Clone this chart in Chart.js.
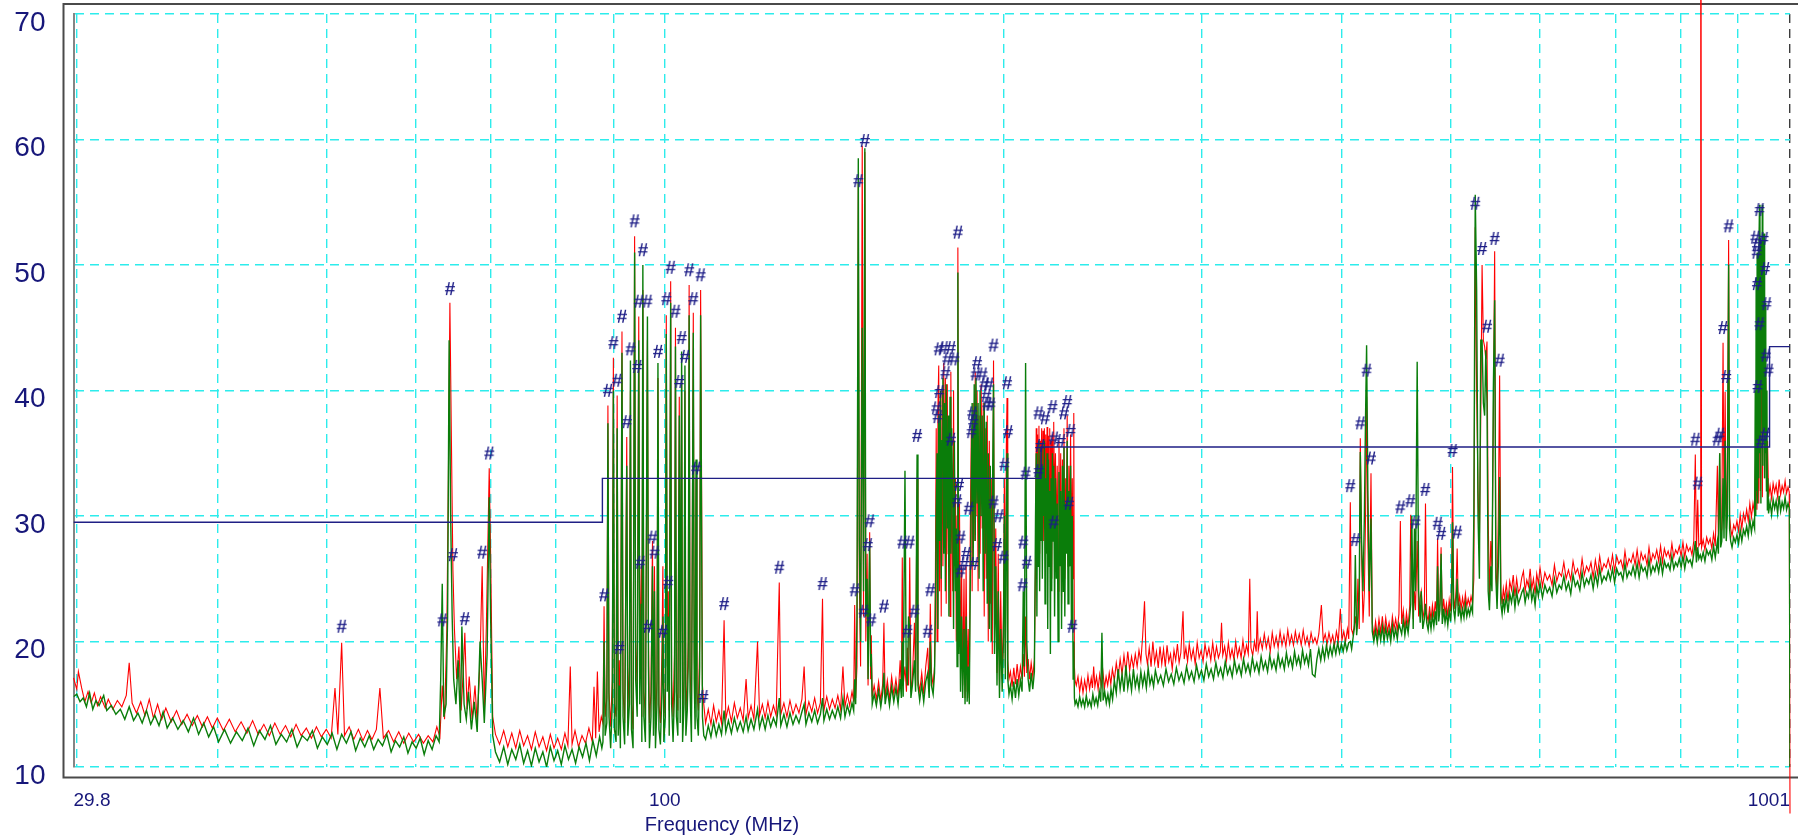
<!DOCTYPE html>
<html>
<head>
<meta charset="utf-8">
<title>Radiated emission scan</title>
<script src="https://cdn.jsdelivr.net/npm/chart.js@4.4.0/dist/chart.umd.min.js"></script>
<style>
  html, body { margin: 0; padding: 0; background: #ffffff; }
  #wrap { position: relative; width: 1798px; height: 837px; }
</style>
</head>
<body>
<div id="wrap"><canvas id="scanChart" width="1798" height="837"></canvas></div>
<script>
// Axis settings
const X_MIN = 29.8;
const X_MAX = 1001;
const X_GRID = [29.8, 30, 40, 50, 60, 70, 80, 90, 100, 200, 300, 400, 500, 600, 700, 800, 900, 1000, 1001];
const X_LABELS = [29.8, 100, 1001];
const X_TITLE = 'Frequency (MHz)';
const Y_MIN = 10;
const Y_MAX = 70;

// Limit line (stepped)
const limitFreq = [29.8, 88, 216, 960, 1001];
const limitLevel = [29.5, 33.0, 35.5, 43.5, 43.5];

// Red trace [MHz, level]
const redBand1 = [[29.8,17.1],[30.0,16.2],[30.1,17.6],[30.3,16.3],[30.5,15.2],[30.7,16.0],[30.9,15.1],[31.1,15.9],[31.3,14.9],[31.5,15.6],[31.8,14.7],[32.0,15.4],[32.3,14.6],[32.6,15.3],[32.9,14.8],[33.2,15.7],[33.4,18.3],[33.6,15.1],[33.9,14.3],[34.2,15.2],[34.5,14.1],[34.8,15.4],[35.1,13.9],[35.4,15.0],[35.7,13.8],[36.0,14.7],[36.4,13.6],[36.8,14.5],[37.2,13.4],[37.6,14.2],[38.0,13.3],[38.4,14.1],[38.8,13.2],[39.2,14.0],[39.6,13.1],[40.0,13.9],[40.5,12.9],[41.0,13.8],[41.5,12.8],[42.0,13.6],[42.5,12.7],[43.0,13.7],[43.5,12.6],[44.0,13.4],[44.5,12.5],[45.0,13.5],[45.5,12.6],[46.0,13.3],[46.5,12.4],[47.0,13.4],[47.5,12.5],[48.0,13.1],[48.5,12.3],[49.0,13.2],[49.5,12.4],[50.0,13.0],[50.5,12.3],[50.9,16.3],[51.2,12.6],[51.6,19.9],[51.9,12.5],[52.4,13.2],[52.9,12.2],[53.4,13.0],[53.9,12.1],[54.4,12.9],[54.9,12.2],[55.4,13.0],[55.8,16.3],[56.2,12.3],[56.8,12.9],[57.4,12.0],[58.0,12.8],[58.6,11.9],[59.2,12.7],[59.8,12.0],[60.4,12.6],[61.0,11.9],[61.6,12.5],[62.2,12.0],[62.7,13.2],
  [63.1,12.4],[63.4,16.5],[63.7,13.8],[64.0,21.0],[64.2,33.0],[64.4,47.0],[64.6,36.0],[64.8,25.7],[65.0,21.0],[65.3,17.0],[65.6,19.6],[65.9,14.5],[66.2,17.8],[66.4,20.7],[66.7,14.6],[67.0,17.2],[67.4,13.8],[67.8,16.5],[68.1,13.5],[68.5,18.5],[68.8,26.0],[69.1,14.5],[69.4,21.5],[69.8,33.8],[70.0,27.0],[70.3,14.0],
  [70.7,12.6],[71.3,11.8],[71.9,12.9],[72.5,11.6],[73.1,12.7],[73.7,11.5],[74.3,12.9],[74.9,11.7],[75.5,12.5],[76.1,11.4],[76.7,12.8],[77.3,11.6],[77.9,12.4],[78.5,11.3],[79.1,12.6],[79.7,11.5],[80.3,12.3],[80.9,11.4],[81.5,12.7],[82.0,11.7],[82.4,18.0],[82.7,11.8],[83.2,12.9],[83.8,11.6],[84.4,12.5],[85.0,11.9],[85.6,13.1],[86.2,12.0],[86.5,16.4],[86.8,12.3],[87.1,17.6],[87.4,12.8],[87.8,14.0]];
const redBand2 = [[88.1,13.5],[88.3,22.8],[88.5,14.0],[88.8,15.5],[89.0,38.8],[89.2,16.0],[89.5,13.2],[89.8,17.0],[90.0,42.6],[90.2,15.0],[90.5,14.0],[90.7,39.6],[90.9,14.5],[91.1,18.5],[91.3,13.0],[91.6,44.7],[91.8,16.0],[92.1,13.5],[92.5,36.3],[92.7,14.5],[93.0,18.0],[93.2,40.0],[93.4,15.0],[93.7,13.0],[94.0,52.3],[94.2,20.0],[94.5,16.0],[94.8,45.9],[95.0,18.0],[95.3,26.0],[95.4,14.0],[95.6,48.0],[95.8,16.0],[96.1,14.0],[96.5,44.0],[96.7,20.5],[96.9,13.5],[97.2,16.0],[97.5,28.0],[97.7,14.5],[97.9,26.0],[98.1,13.0],[98.4,17.0],[98.6,41.0],[98.8,15.0],[99.1,13.5],[99.4,19.0],[99.6,26.0],[99.8,14.0],[100.1,16.0],[100.3,46.0],[100.5,18.0],[100.7,24.0],[100.9,14.5],[101.2,48.7],[101.4,17.0],[101.7,14.0],[102.0,19.0],[102.2,45.0],[102.4,16.0],[102.7,14.5],[103.0,39.5],[103.2,15.5],[103.5,41.0],[103.7,14.0],[104.0,17.0],[104.2,40.0],[104.4,14.5],[104.7,16.5],[104.9,20.0],[105.1,48.4],[105.3,18.0],[105.6,14.0],[106.0,46.2],[106.2,19.0],[106.4,15.0],[106.6,33.0],[106.8,16.0],[107.1,14.5],[107.4,20.0],[107.6,48.0],[107.8,34.0],[108.0,16.5],[108.3,15.0]];
const redBand3 = [[108.7,13.5],[109.3,14.6],[109.9,13.4],[110.5,14.9],[111.1,13.6],[111.7,14.5],[112.3,13.5],[112.9,21.7],[113.3,13.8],[113.9,14.8],[114.6,13.6],[115.3,15.1],[116.0,13.9],[116.7,14.7],[117.4,13.7],[118.1,17.0],[118.6,13.9],[119.3,14.9],[120.0,13.8],[120.9,20.0],[121.4,14.1],[122.1,15.0],[122.8,13.9],[123.5,15.2],[124.2,14.0],[124.9,14.9],[125.6,14.1],[126.4,24.7],[126.8,14.2],[127.6,15.1],[128.4,14.0],[129.2,15.3],[130.0,14.2],[130.8,15.0],[131.6,14.3],[132.4,15.4],[133.0,18.0],[133.5,14.2],[134.3,15.2],[135.1,14.4],[135.9,15.5],[136.7,14.3],[137.5,15.1],[138.1,23.4],[138.5,14.5],[139.3,15.6],[140.1,14.6],[140.9,15.4],[141.7,14.7],[142.5,15.7],[143.3,14.6],[144.0,18.0],[144.6,14.8],[145.3,15.8],[146.0,14.9],[146.7,16.0],[147.2,15.2],[147.5,22.9],[147.8,15.5],[148.2,18.0],[148.6,56.5],[148.9,25.0],[149.3,18.0],[149.8,59.5],[150.2,22.0],[150.6,59.0],[150.9,20.0],[151.3,27.0],[151.6,16.5],[152.1,28.7],[152.4,17.0],[152.6,20.5],[152.9,15.6],
  [153.5,16.5],[154.2,15.4],[154.9,16.8],[155.6,15.3],[156.2,16.6],[156.6,21.5],[157.0,15.5],[157.7,16.9],[158.4,15.4],[159.1,17.2],[159.8,15.8],[160.5,17.0],[161.2,15.6],[161.9,18.5],[162.3,16.0],[162.6,26.7],[162.9,16.5],[163.5,18.0],[164.0,16.0],[164.3,19.5],[164.7,16.5],[165.1,26.7],[165.5,16.0],[166.0,17.0],[166.7,21.5],[167.1,16.5],[167.6,33.0],[167.9,17.0],[168.5,16.0],[169.2,17.5],[169.9,15.8],[170.6,18.0],[171.3,19.5],[171.8,16.0],[172.2,23.0],[172.6,17.5],[173.2,16.5],[173.7,18.0],
  [174.0,25.0],[174.3,37.0],[174.6,20.0],[174.9,38.5],[175.2,42.0],[175.5,24.0],[175.8,35.0],[176.1,22.0],[176.4,40.0],[176.7,26.0],[177.0,42.2],[177.3,28.0],[177.6,41.0],[177.9,23.0],[178.3,40.5],[178.6,27.0],[178.9,36.0],[179.3,22.0],[179.6,41.5],[179.9,30.0],[180.3,24.0],[180.6,40.0],[180.9,26.0],[181.3,33.0],[181.6,20.0],[181.9,30.0],[182.2,51.4],[182.5,22.0],[182.8,31.0],[183.2,18.0],[183.6,26.0],[184.0,16.5],[184.5,25.0],[184.9,15.5],[185.3,26.0],[185.7,16.0],[186.1,21.0],[186.5,15.5],
  [186.9,29.0],[187.3,37.0],[187.6,24.0],[188.0,39.0],[188.4,28.0],[188.8,41.5],[189.1,30.0],[189.5,40.0],[189.9,24.0],[190.3,38.0],[190.7,27.0],[191.1,40.5],[191.5,29.0],[191.9,39.0],[192.3,22.0],[192.7,37.0],[193.1,25.0],[193.5,38.0],[193.9,20.0],[194.3,36.0],[194.7,23.0],[195.1,33.0],[195.5,19.0],[196.0,42.4],[196.4,21.0],[196.9,29.0],[197.4,17.5],[197.9,27.0],[198.4,16.5],[198.9,24.0],[199.5,17.0],[200.0,22.0],[200.4,33.0],[200.8,18.0],[201.2,35.5],[201.5,39.4],[201.8,18.5],[202.3,17.0],
  [202.9,17.6],[203.6,16.4],[204.3,17.9],[205.0,16.6],[205.7,18.2],[206.4,16.8],[207.1,18.0],[207.8,17.0],[208.3,19.0],[208.8,17.2],[209.3,22.0],[209.8,17.5],[210.4,18.6],[211.0,17.0],[211.7,18.3],[212.4,17.2],[213.1,18.5],
  [213.6,26.0],[213.9,37.0],[214.2,31.0],[214.5,36.5],[214.8,29.0],[215.1,37.2],[215.4,27.0],[215.7,36.0],[216.0,33.0],[216.3,37.0],[216.6,30.0],[216.9,36.8],[217.2,28.0],[217.5,37.0],[217.8,32.0],[218.1,36.5],[218.4,29.0],[218.7,37.1],[219.0,34.0],[219.3,36.4],[219.6,27.0],[219.9,37.0],[220.2,30.0],[220.5,36.0],[220.8,25.0],[221.1,36.5],[221.4,29.0],[221.7,37.5],[222.1,31.0],[222.5,35.0],[222.9,27.0],[223.3,34.0],[223.7,24.0],[224.1,36.0],[224.5,28.0],[224.9,35.0],[225.3,23.0],[225.7,34.5],[226.1,28.0],[226.4,37.0],[226.8,25.0],[227.2,33.0],[227.6,30.0],[227.9,38.0],[228.3,26.0],[228.7,34.0],[229.1,29.0],[229.5,36.5],[229.9,27.0],[230.3,33.0],[230.7,25.0],[231.0,38.2],[231.3,18.0],[231.6,16.9]];
const redBand4 = [[232.2,16.5],[233.0,17.2],[233.8,16.0],[234.6,17.0],[235.4,15.9],[236.2,16.9],[237.0,16.1],[237.8,17.3],[238.6,16.2],[239.4,17.1],[240.0,16.3],[240.6,18.0],[241.2,16.4],[242.0,17.2],[242.8,16.2],[243.6,17.4],[244.4,16.5],[245.2,17.6],[246.0,16.3],[246.8,17.2],[247.6,16.5],[248.4,17.5],[249.2,16.6],[250.0,17.8],[251.0,16.9],[252.0,18.3],[253.0,17.2],[254.0,18.6],[255.0,17.4],[256.0,18.9],[257.0,17.6],[258.0,19.2],[259.0,17.7],[260.0,18.8],[261.0,17.9],[262.0,19.0],[263.0,18.0],[264.0,19.3],[265.0,18.4],[266.0,20.5],[267.0,23.2],[267.8,19.0],[268.6,18.2],[269.6,19.5],[270.6,18.0],[271.6,20.0],[272.6,18.3],[273.6,19.2],[274.6,17.9],[275.6,19.6],[276.6,18.2],[277.6,19.4],[278.6,18.0],[279.6,19.7],[280.6,18.4],[281.6,19.0],[282.6,17.8],[283.6,19.3],[284.6,18.5],[285.6,19.8],[286.6,18.3],[287.6,19.1],[288.9,22.4],[289.6,18.6],[290.6,19.5],[291.6,18.4],[292.6,19.8],[293.8,18.6],[295.0,19.4],[296.2,18.2],[297.4,19.9],[298.6,18.7],[299.8,19.3],[301.0,18.4],[302.2,19.8],[303.4,18.8],[304.6,19.5],[305.8,18.5],[307.0,19.9],[308.2,18.6],[309.4,19.6],[310.6,18.7],[311.8,19.2],[312.6,21.5],[313.4,18.9],[314.6,19.6],[315.8,18.5],[317.0,19.9],[318.2,18.7],[319.4,19.4],[320.6,18.6],[321.8,20.0],[323.0,18.8],[324.2,19.5],[325.4,18.7],[326.6,20.1],[327.8,18.9],[329.0,19.7],[330.2,19.0],[331.2,25.0],[332.0,19.5],[333.2,18.9],[334.4,20.0],[335.6,19.2],[336.3,22.4],[337.0,19.3],[338.4,20.2],[339.8,19.4],[341.2,20.6],[342.6,19.5],[344.0,20.3],[345.4,19.2],[346.8,20.7],[348.2,19.6],[349.6,20.4],[351.0,19.5],[352.4,20.8],[353.8,19.7],[355.2,20.5],[356.6,19.6],[358.0,20.9],[359.4,19.8],[360.8,20.5],[362.2,19.7],[363.6,20.8],[365.0,19.9],[366.5,20.6],[368.0,19.7],[369.5,20.9],[371.0,19.8],[372.5,20.4],[374.0,19.6],[375.5,20.7],[377.0,19.9],[378.5,20.3],[380.0,19.8],[381.5,20.6],[383.5,22.9],[385.0,20.0],[386.5,20.6],[388.0,19.8],[389.5,20.7],[391.0,19.9],[392.5,20.5],[394.0,19.7],[395.5,20.8],[397.0,20.0],[398.7,22.6],[400.0,20.1],[401.5,20.8],[403.0,20.0],[404.5,21.0],[405.6,20.2],
  [406.9,31.1],[407.8,21.0],[409.0,20.6],[410.2,21.2],[411.1,22.0],[412.2,20.8],[413.3,25.0],[414.4,21.0],[415.3,36.2],[416.4,27.0],[417.6,21.5],[418.8,24.0],[419.8,30.0],[420.7,39.5],[421.8,28.0],[423.0,22.0],[424.5,33.4],[425.6,21.5],[427.0,20.4],[428.5,21.6],[430.0,20.5],[431.5,21.8],[433.0,20.7],[434.5,22.0],[436.0,20.6],[437.5,21.9],[439.0,20.8],[440.5,21.5],[442.0,20.6],[443.5,22.0],[445.0,21.0],[446.5,21.8],[448.0,20.9],[449.5,22.2],[450.8,29.6],[452.0,21.4],[453.5,22.5],[455.0,21.0],[456.5,22.3],[458.0,21.2],[459.5,22.8],[460.5,30.1],[461.5,25.0],[462.8,21.8],[464.0,24.0],[465.0,22.5],[466.6,28.0],[468.0,22.0],[469.5,23.5],[470.5,24.0],[472.0,21.8],[473.5,22.6],[474.6,31.0],[475.8,22.2],[477.2,21.6],[478.6,22.8],[480.0,21.7],[481.4,22.9],[482.8,21.9],[484.2,23.2],[485.5,22.0],[486.5,28.2],[487.6,22.4],[488.8,23.0],[490.0,27.5],[491.2,22.1],[492.6,23.4],[494.0,22.2],[495.4,23.0],[496.8,22.0],[498.2,23.3],[499.6,22.4],[500.8,25.0],[501.6,33.9],[502.8,23.5],[504.0,22.6],[505.2,24.0],[506.4,27.4],[507.6,22.8],[509.0,23.6],[510.5,22.6],[512.0,23.5],[513.5,22.7],[515.0,23.8],[516.5,22.8],[518.0,23.4],[519.5,22.9],[521.0,23.6],[522.6,23.0],[524.0,25.0],[525.5,53.0],[527.0,40.0],[528.5,32.0],[530.0,28.0],[531.5,38.0],[532.9,50.0],[534.3,44.0],[535.7,43.5],[537.0,42.5],[538.3,43.9],[539.6,30.0],[541.0,23.5],[542.5,28.0],[543.8,26.0],[545.3,37.0],[546.8,51.1],[548.2,26.0],[549.5,23.4],[550.9,30.0],[552.4,41.2],[553.8,24.0],[555.2,23.0],[556.6,24.2]];
const redBand5 = [[558.0,23.4],[560.0,24.6],[562.0,23.2],[564.0,24.8],[566.0,24.1],[568.0,25.3],[570.0,23.6],[572.0,25.0],[574.0,23.9],[576.0,24.2],[578.0,25.1],[580.0,25.6],[582.0,24.0],[584.0,24.9],[586.0,24.4],[588.0,25.8],[590.0,24.2],[592.0,25.0],[594.0,23.8],[596.0,25.4],[598.0,24.6],[600.0,25.9],[603.0,24.4],[606.0,25.5],[609.0,24.9],[612.0,25.3],[615.0,24.5],[618.0,26.1],[621.0,24.8],[624.0,25.5],[627.0,25.2],[630.0,26.3],[633.0,25.0],[636.0,25.7],[639.0,24.9],[642.0,26.4],[645.0,25.4],[648.0,25.8],[651.0,25.0],[654.0,26.6],[657.0,25.3],[660.0,26.0],[663.0,25.6],[666.0,26.3],[669.0,25.1],[672.0,26.5],[675.0,25.4],[678.0,26.8],[681.0,25.6],[684.0,26.2],[687.0,25.9],[690.0,26.6],[693.0,25.8],[696.0,26.9],[699.0,25.6],[702.0,26.8],[705.0,26.2],[708.0,26.5],[711.0,25.8],[714.0,27.2],[717.0,26.0],[720.0,26.6],[723.0,26.3],[726.0,27.0],[729.0,26.1],[732.0,27.3],[735.0,26.0],[738.0,27.1],[741.0,26.5],[744.0,26.9],[747.0,26.1],[750.0,27.5],[753.0,26.3],[756.0,27.0],[759.0,26.6],[762.0,27.3],[765.0,26.4],[768.0,27.6],[771.0,26.3],[774.0,27.4],[777.0,26.8],[780.0,27.2],[783.0,26.6],[786.0,27.8],[789.0,26.7],[792.0,27.3],[795.0,27.0],[798.0,27.6],[801.0,26.8],[804.0,27.9],[807.0,26.7],[810.0,27.7],[813.0,27.2],[816.0,27.5],[819.0,26.9],[822.0,28.0],[824.6,34.9],[826.5,27.2],[828.7,31.3],[830.5,27.6],[832.6,27.8],[833.4,110],[834.2,110],[835.2,27.5],[838.0,28.1],[841.0,27.3],[844.0,28.3],[847.0,27.8],[850.0,28.2],[853.0,27.4],[856.0,28.6],[859.0,27.6],[862.7,34.0],[864.5,28.0],[866.8,35.0],[868.5,28.3],[870.5,29.0],[872.8,43.8],[874.5,30.0],[876.5,39.9],[878.5,29.0],[880.5,33.0],[882.8,52.0],[884.5,30.0],[886.5,29.0],[889.0,28.4],[892.0,29.3],[895.0,28.9],[898.0,29.6],[901.0,28.8],[904.0,30.1],[907.0,29.0],[910.0,30.2],[913.0,29.6],[916.0,30.5],[919.0,29.6],[922.0,31.0],[925.0,29.9],[928.0,31.0],[931.0,30.2],[933.0,35.0],[935.4,30.5],[937.0,38.0],[939.0,31.0],[940.4,53.0],[942.0,32.0],[944.0,45.0],[946.0,31.5],[948.2,50.0],[950.0,33.0],[952.4,41.0],[954.1,32.0],[956.0,36.0],[958.0,31.5],[961.0,32.4],[964.0,31.4],[967.0,32.6],[970.0,31.9],[973.0,32.5],[976.0,31.5],[979.0,32.9],[982.0,31.7],[985.0,32.4],[988.0,31.9],[991.0,32.8],[994.0,31.8],[997.0,32.3],[999.5,31.9],[1001,6.3]];

// Green trace [MHz, level]
const greenBand1 = [[29.8,15.6],[30.0,15.8],[30.2,15.2],[30.4,15.5],[30.6,14.8],[30.8,15.9],[31.0,14.6],[31.2,15.3],[31.4,14.9],[31.7,15.7],[31.9,14.5],[32.2,14.9],[32.5,14.2],[32.8,14.6],[33.1,13.8],[33.4,14.8],[33.7,13.7],[34.0,14.3],[34.3,13.5],[34.6,14.5],[34.9,13.4],[35.2,14.1],[35.5,13.3],[35.8,14.4],[36.1,13.1],[36.5,13.9],[36.9,13.0],[37.3,13.7],[37.7,12.8],[38.1,13.9],[38.5,12.6],[38.9,13.5],[39.3,12.4],[39.7,13.2],[40.1,12.0],[40.6,13.0],[41.1,11.9],[41.6,12.8],[42.1,12.1],[42.6,13.1],[43.1,11.7],[43.6,12.9],[44.1,12.2],[44.6,13.3],[45.1,11.8],[45.6,12.6],[46.1,12.0],[46.6,13.0],[47.1,11.6],[47.6,12.5],[48.1,12.1],[48.6,12.9],[49.1,11.5],[49.6,12.4],[50.1,11.8],[50.6,12.7],[51.1,11.4],[51.6,12.6],[52.1,11.9],[52.6,12.8],[53.1,11.3],[53.6,12.3],[54.1,11.6],[54.6,12.5],[55.1,11.4],[55.6,12.2],[56.1,11.7],[56.6,12.6],[57.1,11.2],[57.6,12.1],[58.1,11.6],[58.6,12.4],[59.1,11.1],[59.6,12.0],[60.1,11.5],[60.6,12.3],[61.1,11.0],[61.6,12.1],[62.1,11.4],[62.6,12.5],
  [63.0,12.0],[63.2,17.0],[63.4,24.6],[63.6,14.0],[63.9,15.0],[64.1,22.0],[64.3,44.0],[64.5,30.0],[64.7,22.0],[64.9,17.0],[65.2,15.0],[65.5,18.5],[65.8,13.5],[66.0,21.2],[66.3,15.0],[66.6,13.8],[66.9,16.0],[67.3,13.0],[67.7,15.2],[68.1,12.8],[68.5,20.0],[68.8,17.0],[69.1,13.5],[69.5,19.0],[69.8,31.5],[70.0,22.0],[70.3,12.5],
  [70.7,11.2],[71.3,10.4],[71.9,11.6],[72.5,10.2],[73.1,11.4],[73.7,10.6],[74.3,11.8],[74.9,10.3],[75.5,11.3],[76.1,10.1],[76.7,11.5],[77.3,10.4],[77.9,11.2],[78.5,10.0],[79.1,11.6],[79.7,10.5],[80.3,11.3],[80.9,10.2],[81.5,11.7],[82.1,10.6],[82.7,11.4],[83.3,10.3],[83.9,11.6],[84.5,10.8],[85.1,11.9],[85.7,10.5],[86.3,12.1],[86.9,10.9],[87.5,12.4],[87.9,11.5]];
const greenBand2 = [[88.1,12.0],[88.3,20.0],[88.5,12.5],[88.8,13.5],[89.0,37.4],[89.2,14.0],[89.5,11.5],[89.8,15.0],[90.0,40.0],[90.2,13.0],[90.5,12.0],[90.7,37.0],[90.9,12.5],[91.1,16.5],[91.3,11.5],[91.6,43.0],[91.8,14.0],[92.1,11.8],[92.5,34.0],[92.7,12.5],[93.0,15.0],[93.2,42.4],[93.4,13.0],[93.7,11.5],[94.0,51.0],[94.2,17.0],[94.5,14.0],[94.8,44.0],[95.0,15.0],[95.3,23.0],[95.4,12.0],[95.6,50.0],[95.8,14.0],[96.1,12.0],[96.5,45.9],[96.7,18.0],[96.9,11.5],[97.2,14.0],[97.5,26.0],[97.7,12.5],[97.9,24.0],[98.1,11.5],[98.4,15.0],[98.6,42.2],[98.8,13.0],[99.1,11.8],[99.4,16.0],[99.6,22.0],[99.8,12.0],[100.1,14.0],[100.3,44.5],[100.5,16.0],[100.7,22.0],[100.9,12.5],[101.2,47.0],[101.4,15.0],[101.7,12.0],[102.0,16.0],[102.2,43.5],[102.4,14.0],[102.7,12.5],[103.0,38.0],[103.2,13.5],[103.5,43.1],[103.7,12.0],[104.0,15.0],[104.2,42.0],[104.4,12.5],[104.7,14.5],[104.9,18.0],[105.1,46.0],[105.3,16.0],[105.6,12.0],[106.0,44.6],[106.2,17.0],[106.4,13.0],[106.6,34.5],[106.8,14.0],[107.1,12.5],[107.4,18.0],[107.6,46.0],[107.8,30.0],[108.0,14.0],[108.3,12.5]];
const greenBand3 = [[108.7,12.2],[109.3,13.3],[109.9,12.4],[110.5,13.6],[111.1,12.5],[111.7,13.4],[112.3,12.6],[112.9,14.5],[113.3,12.8],[113.9,13.7],[114.6,12.7],[115.3,13.9],[116.0,12.9],[116.7,13.6],[117.4,12.8],[118.1,14.0],[118.6,12.9],[119.3,13.8],[120.0,13.0],[120.9,14.6],[121.4,13.1],[122.1,14.0],[122.8,13.0],[123.5,14.1],[124.2,13.2],[124.9,13.9],[125.6,13.3],[126.4,15.5],[126.8,13.3],[127.6,14.2],[128.4,13.2],[129.2,14.3],[130.0,13.4],[130.8,14.1],[131.6,13.5],[132.4,14.4],[133.0,15.0],[133.5,13.4],[134.3,14.3],[135.1,13.6],[135.9,14.5],[136.7,13.5],[137.5,14.2],[138.1,15.5],[138.5,13.7],[139.3,14.6],[140.1,13.8],[140.9,14.5],[141.7,13.9],[142.5,14.8],[143.3,13.9],[144.0,15.5],[144.6,14.0],[145.3,14.9],[146.0,14.2],[146.7,15.1],[147.2,14.5],[147.5,17.0],[147.8,15.0],[148.2,22.0],[148.6,58.5],[148.9,28.0],[149.3,20.0],[149.8,45.0],[150.2,24.0],[150.6,59.3],[150.9,22.0],[151.3,25.0],[151.6,17.0],[152.1,28.0],[152.4,18.0],[152.6,19.0],[152.9,15.0],
  [153.5,15.8],[154.2,14.9],[154.9,16.1],[155.6,14.8],[156.2,15.9],[156.6,17.5],[157.0,15.0],[157.7,16.2],[158.4,14.9],[159.1,16.4],[159.8,15.2],[160.5,16.3],[161.2,15.0],[161.9,17.0],[162.3,15.5],[162.6,20.0],[162.9,15.6],[163.5,33.6],[163.9,18.0],[164.3,16.5],[164.7,22.0],[165.1,21.0],[165.5,15.5],[166.0,16.5],[166.7,18.5],[167.1,16.0],[167.6,34.9],[167.9,16.5],[168.5,15.3],[169.2,16.6],[169.9,15.2],[170.6,16.8],[171.3,17.5],[171.8,15.5],[172.2,20.0],[172.6,16.5],[173.2,15.8],[173.7,17.5],
  [174.0,22.0],[174.3,30.0],[174.6,35.0],[174.9,21.0],[175.2,38.0],[175.5,28.0],[175.8,40.0],[176.1,25.0],[176.4,36.0],[176.7,41.0],[177.0,27.0],[177.3,39.0],[177.6,24.0],[177.9,40.5],[178.3,29.0],[178.6,38.0],[178.9,22.0],[179.3,39.5],[179.6,27.0],[179.9,37.0],[180.3,31.0],[180.6,21.0],[180.9,36.0],[181.3,24.0],[181.6,29.0],[181.9,18.0],[182.2,49.4],[182.5,19.0],[182.8,26.0],[183.2,16.0],[183.6,22.0],[184.0,15.5],[184.5,21.0],[184.9,15.0],[185.3,22.0],[185.7,15.2],[186.1,18.0],[186.5,15.0],
  [186.9,25.0],[187.3,33.0],[187.6,39.0],[188.0,26.0],[188.4,40.5],[188.8,28.0],[189.1,41.0],[189.5,31.0],[189.9,39.0],[190.3,25.0],[190.7,40.0],[191.1,30.0],[191.5,38.0],[191.9,24.0],[192.3,39.0],[192.7,27.0],[193.1,37.5],[193.5,23.0],[193.9,35.0],[194.3,21.0],[194.7,34.0],[195.1,20.0],[195.5,30.0],[196.0,40.5],[196.4,19.0],[196.9,26.0],[197.4,16.5],[197.9,24.0],[198.4,15.5],[198.9,21.0],[199.5,16.0],[200.0,20.0],[200.4,30.0],[200.8,17.0],[201.2,30.0],[201.5,35.0],[201.8,17.0],[202.3,15.8],
  [202.9,16.5],[203.6,15.4],[204.3,16.8],[205.0,15.5],[205.7,17.0],[206.4,15.7],[207.1,16.9],[207.8,16.0],[208.3,24.0],[208.8,18.0],[209.3,42.2],[209.8,20.0],[210.4,17.0],[211.0,16.0],[211.7,17.5],[212.4,16.2],[213.1,17.6],
  [213.6,30.0],[213.9,35.0],[214.2,22.0],[214.5,34.0],[214.8,26.0],[215.1,36.0],[215.4,24.0],[215.7,33.0],[216.0,28.0],[216.3,35.5],[216.6,25.0],[216.9,34.0],[217.2,30.0],[217.5,36.0],[217.8,23.0],[218.1,33.0],[218.4,27.0],[218.7,35.0],[219.0,21.0],[219.3,34.5],[219.6,26.0],[219.9,32.0],[220.2,19.0],[220.5,33.0],[220.8,24.0],[221.1,35.0],[221.4,28.0],[221.7,34.0],[222.1,22.0],[222.5,33.0],[222.9,25.0],[223.3,31.0],[223.7,20.0],[224.1,33.5],[224.5,26.0],[224.9,32.0],[225.3,21.0],[225.7,34.0],[226.1,24.0],[226.4,35.5],[226.8,22.0],[227.2,31.0],[227.6,27.0],[227.9,36.0],[228.3,23.0],[228.7,32.0],[229.1,26.0],[229.5,34.0],[229.9,21.0],[230.3,30.0],[230.7,17.0],[231.0,20.0],[231.3,15.5],[231.6,15.0]];
const greenBand4 = [[232.2,15.3],[233.0,14.8],[233.8,15.6],[234.6,14.9],[235.4,15.4],[236.2,14.8],[237.0,15.7],[237.8,14.9],[238.6,15.3],[239.4,14.8],[240.2,15.8],[241.0,15.0],[241.8,15.5],[242.6,14.9],[243.4,16.0],[244.1,15.2],[244.7,20.7],[245.3,15.3],[246.1,16.0],[246.9,15.1],[247.7,15.8],[248.5,15.0],[249.3,16.2],[250.1,15.4],[251.0,16.9],[252.0,15.9],[253.0,17.8],[254.0,16.2],[255.0,17.4],[256.0,16.0],[257.0,18.1],[258.0,16.3],[259.0,17.3],[260.0,16.1],[261.0,17.8],[262.0,16.4],[263.0,17.2],[264.0,16.2],[265.0,17.6],[266.0,16.5],[267.0,17.4],[268.0,16.3],[269.0,17.9],[270.0,16.6],[271.0,17.2],[272.0,16.4],[273.0,17.7],[274.5,16.7],[276.0,17.3],[277.5,16.5],[279.0,17.8],[280.5,16.8],[282.0,17.4],[283.5,16.6],[285.0,17.9],[286.5,16.9],[288.0,17.5],[289.5,16.7],[291.0,18.0],[292.5,17.0],[294.0,17.6],[295.5,16.8],[297.0,18.1],[298.5,17.1],[300.0,17.7],[301.5,16.9],[303.0,18.2],[304.5,17.2],[306.0,17.8],[307.5,17.0],[309.0,18.3],[310.5,17.3],[312.0,17.9],[313.5,17.1],[315.0,18.4],[316.5,17.4],[318.0,18.0],[319.5,17.2],[321.0,18.5],[322.5,17.5],[324.0,18.1],[325.5,17.3],[327.0,18.6],[328.5,17.6],[330.0,18.2],[331.5,17.4],[333.0,18.7],[334.5,17.7],[336.0,18.3],[337.5,17.5],[339.0,18.8],[340.5,17.8],[342.0,18.4],[343.5,17.6],[345.0,18.9],[346.5,17.9],[348.0,18.5],[349.5,17.7],[351.0,19.0],[352.5,18.0],[354.0,18.6],[355.5,17.8],[357.0,19.1],[358.5,18.1],[360.0,18.7],[361.5,17.9],[363.0,19.2],[364.5,18.2],[366.0,18.8],[367.5,18.0],[369.0,19.3],[370.5,18.3],[372.0,18.9],[373.5,18.1],[375.0,19.4],[376.5,17.4],[378.5,17.2],[380.0,18.6],[381.5,19.4],[383.0,18.5],[384.5,19.5],[386.0,18.6],[387.5,19.7],[389.0,18.8],[390.5,19.6],[392.0,18.9],[393.5,19.8],[395.0,19.0],[396.5,19.9],[398.0,19.1],[399.5,19.8],[401.0,19.2],[402.5,20.0],[404.0,19.3],[405.6,19.9],
  [406.9,20.0],[408.0,19.4],[409.2,20.3],[410.2,21.0],[411.1,26.9],[412.2,20.5],[413.3,22.0],[414.4,24.0],[415.3,35.1],[416.4,28.0],[417.6,24.0],[418.8,30.0],[419.8,38.0],[420.7,43.6],[421.8,32.0],[423.0,24.0],[424.5,29.8],[425.6,20.8],[427.0,20.0],[428.5,20.9],[430.0,19.9],[431.5,21.0],[433.0,20.1],[434.5,21.2],[436.0,20.0],[437.5,21.1],[439.0,20.2],[440.5,20.9],[442.0,20.0],[443.5,21.3],[445.0,20.3],[446.5,21.0],[448.0,20.2],[449.5,21.4],[450.8,21.0],[452.0,20.6],[453.5,21.7],[455.0,20.5],[456.5,21.5],[458.0,20.7],[459.5,22.0],[460.5,23.0],[461.5,30.0],[462.8,21.0],[464.0,29.0],[465.0,24.0],[466.6,42.3],[468.0,24.0],[469.5,21.5],[470.5,24.0],[472.0,21.0],[473.5,21.8],[474.6,23.0],[475.8,21.5],[477.2,20.9],[478.6,22.0],[480.0,21.0],[481.4,22.1],[482.8,21.2],[484.2,22.4],[485.5,21.3],[486.5,26.0],[487.6,21.6],[488.8,22.5],[490.0,27.0],[491.2,21.4],[492.6,22.6],[494.0,21.5],[495.4,22.3],[496.8,21.3],[498.2,22.5],[499.6,21.6],[500.8,23.0],[501.6,29.5],[502.8,22.5],[504.0,21.8],[505.2,23.0],[506.4,25.0],[507.6,22.0],[509.0,22.8],[510.5,21.8],[512.0,22.6],[513.5,21.9],[515.0,23.0],[516.5,22.0],[518.0,22.6],[519.5,22.1],[521.0,22.8],[522.6,22.3],[524.0,30.0],[525.5,55.6],[527.0,48.0],[528.5,30.0],[530.0,25.0],[531.5,44.0],[532.9,44.0],[534.3,39.0],[535.7,38.0],[537.0,43.2],[538.3,39.0],[539.6,24.0],[541.0,22.5],[542.5,26.0],[543.8,24.0],[545.3,40.0],[546.8,47.2],[548.2,25.0],[549.5,22.6],[550.9,26.0],[552.4,33.1],[553.8,23.0],[555.2,22.2],[556.6,23.4]];
const greenBand5 = [[558.0,22.5],[560.0,23.6],[562.0,22.3],[564.0,23.8],[566.0,23.1],[568.0,24.1],[570.0,22.7],[572.0,24.0],[574.0,23.0],[576.0,23.4],[578.0,23.9],[580.0,24.2],[582.0,23.1],[584.0,23.9],[586.0,23.5],[588.0,24.6],[590.0,23.3],[592.0,24.0],[594.0,22.9],[596.0,24.4],[598.0,23.6],[600.0,24.7],[603.0,23.5],[606.0,24.5],[609.0,23.9],[612.0,24.3],[615.0,23.6],[618.0,25.0],[621.0,23.9],[624.0,24.5],[627.0,24.2],[630.0,25.2],[633.0,24.1],[636.0,24.7],[639.0,23.8],[642.0,25.3],[645.0,24.4],[648.0,24.8],[651.0,24.1],[654.0,25.5],[657.0,24.4],[660.0,25.0],[663.0,24.6],[666.0,25.3],[669.0,24.2],[672.0,25.4],[675.0,24.5],[678.0,25.8],[681.0,24.7],[684.0,25.2],[687.0,24.9],[690.0,25.6],[693.0,24.9],[696.0,25.8],[699.0,24.7],[702.0,25.8],[705.0,25.3],[708.0,25.5],[711.0,24.9],[714.0,26.2],[717.0,25.1],[720.0,25.6],[723.0,25.3],[726.0,26.0],[729.0,25.2],[732.0,26.2],[735.0,25.1],[738.0,26.1],[741.0,25.6],[744.0,25.9],[747.0,25.2],[750.0,26.5],[753.0,25.4],[756.0,26.0],[759.0,25.6],[762.0,26.3],[765.0,25.5],[768.0,26.5],[771.0,25.4],[774.0,26.4],[777.0,25.9],[780.0,26.2],[783.0,25.7],[786.0,26.8],[789.0,25.8],[792.0,26.3],[795.0,26.0],[798.0,26.6],[801.0,25.9],[804.0,26.8],[807.0,25.8],[810.0,26.7],[813.0,26.3],[816.0,26.5],[819.0,26.0],[822.0,27.0],[824.6,28.0],[826.5,26.3],[828.7,27.5],[830.5,26.6],[833.0,26.9],[835.0,26.5],[838.0,27.1],[841.0,26.4],[844.0,27.3],[847.0,26.9],[850.0,27.2],[853.0,26.5],[856.0,27.6],[859.0,26.7],[862.7,28.0],[864.5,27.0],[866.8,35.0],[868.5,27.5],[870.5,28.0],[872.8,33.0],[874.5,28.2],[876.5,36.0],[878.5,28.0],[880.5,30.0],[882.8,50.0],[884.5,29.0],[886.5,28.0],[889.0,27.5],[892.0,28.3],[895.0,27.9],[898.0,28.5],[901.0,27.8],[904.0,28.9],[907.0,28.0],[910.0,28.9],[913.0,28.5],[916.0,29.2],[919.0,28.4],[922.0,29.7],[925.0,28.7],[928.0,29.6],[931.0,29.0],[932.3,40.0],[933.2,30.0],[934.0,49.0],[935.0,32.0],[935.9,51.0],[936.8,31.0],[937.6,45.0],[938.5,33.0],[939.4,50.0],[940.4,54.8],[941.3,35.0],[942.2,48.0],[943.1,31.0],[944.0,52.0],[945.0,40.0],[945.8,54.8],[946.8,34.0],[947.6,50.0],[948.5,37.0],[949.4,52.5],[950.3,33.0],[951.2,47.0],[952.1,35.0],[953.0,44.0],[953.9,32.0],[954.8,40.0],[955.7,30.5],[956.6,33.0],[958.0,30.2],[961.0,31.1],[964.0,30.1],[967.0,31.3],[970.0,30.6],[973.0,31.2],[976.0,30.2],[979.0,31.6],[982.0,30.4],[985.0,31.1],[988.0,30.6],[991.0,31.5],[994.0,30.5],[997.0,31.0],[999.8,30.6],[1001,10]];

// Peak markers "#" [MHz, level]
const markerLow = [[51.6,21.1],[63.4,21.6],[64.4,48.0],[64.8,26.8],[66.4,21.7],[68.8,27.0],[69.8,34.9]];
const markerFm = [[88.3,23.6],[89.0,39.9],[90.0,43.7],[90.7,40.7],[91.1,19.4],[91.6,45.8],[92.5,37.4],[93.2,43.2],[94.0,53.4],[94.5,41.8],[94.8,47.0],[95.1,26.2],[95.6,51.1],[96.5,47.0],[96.6,21.1],[97.5,28.2],[97.9,27.0],[98.6,43.0],[99.6,20.7],[100.3,47.2],[100.7,24.6],[101.2,49.7],[102.2,46.2],[103.0,40.6],[103.5,44.1],[104.2,42.6],[105.1,49.5],[106.0,47.2],[106.6,33.7],[107.6,49.1],[108.2,15.5]];
const markerVhf = [[112.9,22.9],[126.4,25.8],[138.1,24.5],[147.5,24.0],[148.6,56.6],[150.2,22.3],[150.6,59.8],[151.5,27.6],[152.1,29.5],[152.6,21.6],[156.6,22.7],[162.6,27.8],[164.3,20.7],[165.1,27.8],[166.7,22.3],[167.6,36.3],[171.3,20.7],[172.2,24.0],
  [174.3,38.5],[174.8,37.8],[175.2,43.2],[175.4,39.8],[176.9,43.3],[177.6,41.3],[178.3,42.4],[179.6,43.3],[179.6,36.0],[180.9,42.4],[181.9,31.1],[182.2,52.5],[182.6,32.4],[183.2,28.2],[183.2,25.5],[184.6,26.1],[185.3,26.9],[186.3,30.5],[187.3,36.6],[187.6,38.1],[188.0,37.4],[188.2,26.1],[188.9,41.2],[189.5,42.1],[191.6,41.2],[192.3,40.4],[193.1,39.5],[193.5,38.8],[194.1,40.4],[194.8,38.8],[196.0,43.5],[196.0,31.0],[197.4,27.6],[198.1,29.9],[200.0,26.6],[200.4,34.0],[201.5,40.5],[201.9,36.6],
  [208.0,24.4],[208.3,27.8],[209.3,33.3],[209.8,26.2],[214.9,38.1],[214.9,33.5],[215.6,35.5],[217.8,37.7],[221.1,38.6],[221.7,36.1],[221.7,29.4],[224.9,35.9],[226.4,38.1],[227.9,39.0],[228.7,30.9],[229.5,36.7],[230.3,21.1]];
const markerUhf = [[406.9,32.3],[411.1,28.0],[415.3,37.3],[420.7,41.5],[424.5,34.5],[450.8,30.6],[460.2,31.1],[464.9,29.4],[474.4,32.0],[486.6,29.3],[490.0,28.5],[501.6,35.1],[506.3,28.6],[525.5,54.8],[532.9,51.2],[538.3,45.0],[546.8,52.0],[552.4,42.3],
  [824.6,36.0],[828.7,32.5],[862.7,36.0],[866.8,36.4],[872.8,44.9],[878.3,41.0],[882.8,53.0],
  [932.3,52.1],[935.0,50.9],[935.4,51.5],[935.4,48.4],[936.6,40.2],[940.4,54.3],[940.4,45.2],[943.0,35.8],[948.2,52.0],[951.1,49.6],[951.0,36.4],[952.4,42.7],[954.1,46.8],[957.9,41.5]];

// Colours
const TEXT_NAVY = '#17177a';
const MARK_NAVY = '#1c1c86';
const GRID_CYAN = 'rgb(45,236,236)';
const LIMIT_BLUE = '#1f1f85';

function toPoints(pairs) {
    return pairs.map(p => ({ x: p[0], y: p[1] }));
}

// Build the "#" glyph used as point style
function makeHashGlyph() {
    const c = document.createElement('canvas');
    c.width = 18;
    c.height = 22;
    const g = c.getContext('2d');
    g.fillStyle = MARK_NAVY;
    g.font = 'bold 19px "Liberation Sans", Arial, sans-serif';
    g.textAlign = 'center';
    g.textBaseline = 'middle';
    g.fillText('#', 9, 11);
    return c;
}

// Frame, background and axis title
const framePlugin = {
    id: 'frame',
    beforeDraw(chart) {
        const ctx = chart.ctx;
        ctx.save();
        ctx.fillStyle = '#ffffff';
        ctx.fillRect(0, 0, chart.width, chart.height);
        ctx.restore();
    },
    beforeDatasetsDraw(chart) {
        const ctx = chart.ctx;
        ctx.save();
        ctx.strokeStyle = '#4a4a4a';
        ctx.lineWidth = 2;
        ctx.beginPath();
        ctx.moveTo(chart.width + 5, 4);
        ctx.lineTo(63.5, 4);
        ctx.lineTo(63.5, 777.5);
        ctx.lineTo(chart.width + 5, 777.5);
        ctx.stroke();
        ctx.restore();
    },
    afterDraw(chart) {
        const ctx = chart.ctx;
        ctx.save();
        ctx.fillStyle = TEXT_NAVY;
        ctx.font = '20px "Liberation Sans", Arial, sans-serif';
        ctx.textAlign = 'center';
        ctx.textBaseline = 'middle';
        ctx.fillText(X_TITLE, 722, 825);
        ctx.restore();
    }
};

const limitPoints = limitFreq.map((f, i) => ({ x: f, y: limitLevel[i] }));
const redPoints = toPoints([].concat(redBand1, redBand2, redBand3, redBand4, redBand5));
const greenPoints = toPoints([].concat(greenBand1, greenBand2, greenBand3, greenBand4, greenBand5));
const markerPoints = toPoints([].concat(markerLow, markerFm, markerVhf, markerUhf));

function createScanChart() {
    const canvas = document.getElementById('scanChart');
    const hashGlyph = makeHashGlyph();

    const config = {
        type: 'line',
        data: {
            datasets: [
                {
                    label: 'Markers',
                    data: markerPoints,
                    showLine: false,
                    pointStyle: hashGlyph,
                    pointRadius: 4,
                    pointHoverRadius: 4
                },
                {
                    label: 'Limit',
                    data: limitPoints,
                    stepped: 'before',
                    borderColor: LIMIT_BLUE,
                    borderWidth: 1.4,
                    pointRadius: 0
                },
                {
                    label: 'Vertical',
                    data: greenPoints,
                    borderColor: '#0a7d0a',
                    borderWidth: 1.4,
                    pointRadius: 0
                },
                {
                    label: 'Horizontal',
                    data: redPoints,
                    borderColor: '#ff0000',
                    borderWidth: 1.1,
                    pointRadius: 0,
                    clip: false
                }
            ]
        },
        options: {
            responsive: false,
            devicePixelRatio: 1,
            animation: false,
            parsing: false,
            elements: { line: { tension: 0 } },
            layout: { padding: { top: 14, right: 8, left: 0, bottom: 0 } },
            plugins: {
                legend: { display: false },
                tooltip: { enabled: false }
            },
            scales: {
                x: {
                    type: 'logarithmic',
                    min: X_MIN,
                    max: X_MAX,
                    bounds: 'data',
                    afterBuildTicks: scale => {
                        scale.ticks = X_GRID.map(v => ({ value: v }));
                    },
                    afterFit: scale => {
                        scale.height = 70;
                        scale.paddingLeft = 0;
                        scale.paddingRight = 0;
                    },
                    ticks: {
                        autoSkip: false,
                        maxRotation: 0,
                        align: 'inner',
                        padding: 22,
                        color: TEXT_NAVY,
                        font: { size: 19, family: '"Liberation Sans", Arial, sans-serif' },
                        callback: value => (X_LABELS.includes(value) ? String(value) : '')
                    },
                    grid: {
                        drawTicks: false,
                        lineWidth: 1.4,
                        borderDash: [9, 6],
                        color: ctx => {
                            const v = ctx.tick ? ctx.tick.value : null;
                            if (v === X_MIN || v === X_MAX) return 'rgba(0,0,0,0)';
                            if (v === 1000) return '#3c3c3c';
                            return GRID_CYAN;
                        }
                    },
                    border: { display: false, dash: [9, 6] }
                },
                y: {
                    type: 'linear',
                    min: Y_MIN,
                    max: Y_MAX,
                    afterFit: scale => {
                        scale.width = 73.5;
                        scale.paddingTop = 0;
                        scale.paddingBottom = 0;
                    },
                    ticks: {
                        stepSize: 10,
                        padding: 28,
                        labelOffset: 9,
                        color: TEXT_NAVY,
                        font: { size: 28, family: '"Liberation Sans", Arial, sans-serif' }
                    },
                    grid: {
                        drawTicks: false,
                        lineWidth: 1.4,
                        borderDash: [9, 6],
                        color: GRID_CYAN
                    },
                    border: { display: true, color: '#858585', width: 2, dash: [9, 6] }
                }
            }
        },
        plugins: [framePlugin]
    };

    return new Chart(canvas, config);
}

document.addEventListener('DOMContentLoaded', () => {
    createScanChart();
});
</script>
</body>
</html>
